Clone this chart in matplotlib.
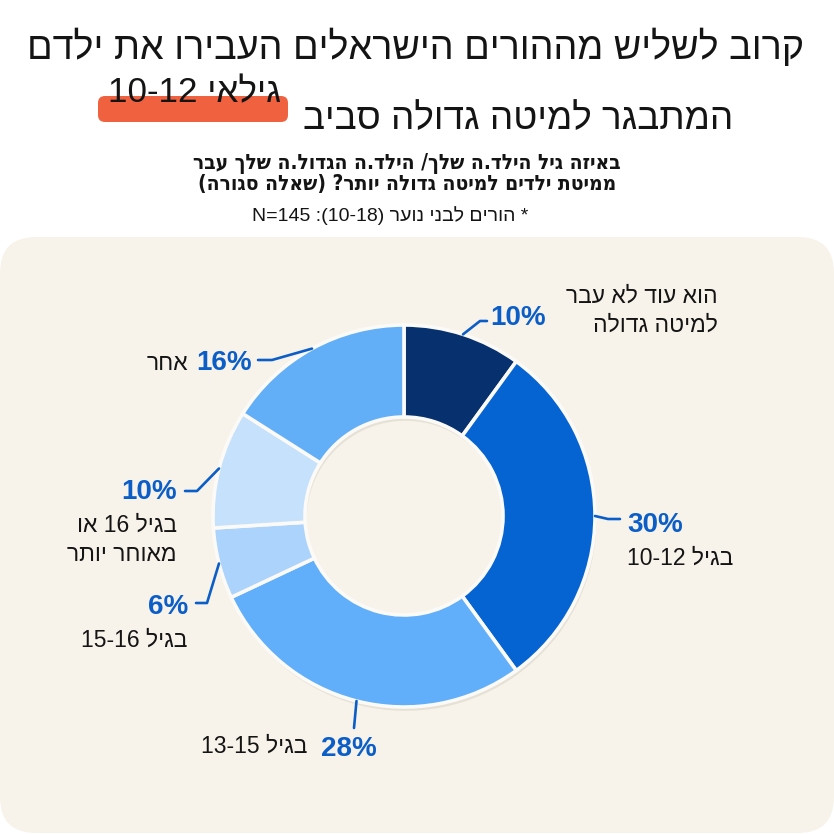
import re
import numpy as np
import matplotlib
matplotlib.use('Agg')
import matplotlib.pyplot as plt
from matplotlib import font_manager as fm
from matplotlib.ft2font import FT2Font
from matplotlib.patches import FancyBboxPatch

# ---------------- data ----------------
categories = ['הוא עוד לא עבר\nלמיטה גדולה', 'בגיל 10-12', 'בגיל 13-15',
              'בגיל 15-16', 'בגיל 16 או\nמאוחר יותר', 'אחר']
values = [10, 30, 28, 6, 10, 16]
pct_labels = [f'{v}%' for v in values]
colors = ['#07306f', '#0563d2', '#61affa', '#abd3fb', '#c6e1fb', '#62aff8']

title_line1 = 'קרוב לשליש מההורים הישראלים העבירו את ילדם'
title_line2 = 'המתבגר למיטה גדולה סביב'
title_highlight = 'גילאי 10-12'
subtitle_lines = ['באיזה גיל הילד.ה שלך/ הילד.ה הגדול.ה שלך עבר',
                  'ממיטת ילדים למיטה גדולה יותר? (שאלה סגורה)']
note = '* הורים לבני נוער (10-18): N=145'

# ---------------- helpers ----------------
W, H = 834, 834
HEB_TEST = 'אבגדהוזחטיכלמנסעפצקרשתםןךףץ'


def _wnum(w):
    if isinstance(w, str):
        return fm.weight_dict.get(w, 400)
    return w


def _covers(path, test):
    try:
        cmap = FT2Font(path).get_charmap()
    except Exception:
        return False
    return all(ord(c) in cmap for c in test)


def _wok(f, bold):
    w = _wnum(f.weight)
    return (w >= 600) if bold else (300 <= w < 550)


def pick_font(names, bold, test=HEB_TEST):
    for name in names:
        for f in fm.fontManager.ttflist:
            if f.name != name or f.style != 'normal' or not _wok(f, bold):
                continue
            if _covers(f.fname, test):
                return f.fname
    return fm.findfont(fm.FontProperties(family='DejaVu Sans',
                                         weight='bold' if bold else 'normal'))


def pick_condensed(bold, test=HEB_TEST):
    for f in fm.fontManager.ttflist:
        low = f.fname.lower()
        if not ('condensed' in low or 'narrow' in low or str(f.stretch) in
                ('condensed', 'semi-condensed', 'extra-condensed')):
            continue
        if f.style != 'normal' or not _wok(f, bold):
            continue
        if _covers(f.fname, test):
            return f.fname
    return None


def vis(s):
    """Logical Hebrew -> visual order (simple bidi)."""
    out = []
    for line in s.split('\n'):
        r = line[::-1]
        r = re.sub(r'[A-Za-z0-9][A-Za-z0-9=\-%.,]*[A-Za-z0-9%]|[A-Za-z0-9]',
                   lambda m: m.group(0)[::-1], r)
        r = r.translate(str.maketrans('()', ')('))
        out.append(r)
    return '\n'.join(out)


REG = pick_font(['Liberation Sans', 'Open Sans', 'DejaVu Sans'], False)
BOLD = pick_font(['Liberation Sans', 'Open Sans', 'DejaVu Sans'], True)
PCTF = pick_font(['Liberation Sans', 'Roboto', 'DejaVu Sans'], True, '0123456789%')
CBOLD = pick_condensed(True) or BOLD


def fp(path, size):
    return fm.FontProperties(fname=path, size=size)


TEXT = '#141414'
BLUE = '#0b5ec8'
BG = '#f8f3ea'

fig = plt.figure(figsize=(W / 100, H / 100), dpi=100)
fig.patch.set_facecolor('white')
renderer = fig.canvas.get_renderer()

# background panel
bg = fig.add_axes([0, 0, 1, 1], zorder=0)
bg.set_xlim(0, W)
bg.set_ylim(H, 0)
bg.axis('off')
bg.add_patch(FancyBboxPatch((0, 237), W, 596, boxstyle='round,pad=0,rounding_size=36',
                            facecolor=BG, edgecolor='none'))

# donut
cx, cy, R = 404, 516, 191
ring = 92 / R
pax = fig.add_axes([(cx - R) / W, (H - cy - R) / H, 2 * R / W, 2 * R / H], zorder=1)
# soft shadow
pax.pie(values, colors=['#6b6050'] * len(values), startangle=90, counterclock=False,
        radius=1.0, center=(0.008, -0.02),
        wedgeprops=dict(width=ring, edgecolor='none', alpha=0.12))
wedges, _ = pax.pie(values, colors=colors, startangle=90, counterclock=False, radius=1.0,
                    wedgeprops=dict(width=ring, edgecolor='#fbfaf6', linewidth=2.6))
pax.set_xlim(-1, 1)
pax.set_ylim(-1, 1)
pax.set_aspect('equal')
pax.axis('off')

# overlay for text & leaders (pixel coords, y down)
ov = fig.add_axes([0, 0, 1, 1], zorder=2)
ov.set_xlim(0, W)
ov.set_ylim(H, 0)
ov.axis('off')


def fit_text(x, y, s, target_w, path, ha='center', color=TEXT, z=5, max_size=None):
    t = ov.text(x, y, vis(s), fontproperties=fp(path, 20), ha=ha, va='baseline',
                color=color, zorder=z)
    bb = t.get_window_extent(renderer)
    size = 20 * target_w / bb.width
    if max_size is not None:
        size = min(size, max_size)
    t.set_fontsize(size)
    return t


# ---- titles ----
fit_text(416, 59, title_line1, 776, REG)
fit_text(733, 129, title_line2, 430, REG, ha='right')
ov.add_patch(FancyBboxPatch((98, 96), 190, 26, boxstyle='round,pad=0,rounding_size=7',
                            facecolor='#f0623f', edgecolor='none', zorder=3))
fit_text(281, 102, title_highlight, 173, REG, ha='right', z=6)

fit_text(407, 169, subtitle_lines[0], 470, CBOLD, max_size=15)
fit_text(407, 190, subtitle_lines[1], 470, CBOLD, max_size=15)
fit_text(390, 221, note, 300, REG, max_size=14)

# ---- labels ----
# per slice: pct (x, baseline, ha), category (x, first baseline, ha), leader (elbow, end)
label_layout = [
    dict(pct=(490, 325, 'left'), cat=(718, 303, 'right'), lead=((480, 321), (487, 321))),
    dict(pct=(627, 532, 'left'), cat=(627, 565, 'left'), lead=((608, 519), (620, 519))),
    dict(pct=(349, 756, 'center'), cat=(307, 753, 'right'), lead=((354, 728), None)),
    dict(pct=(188, 614, 'right'), cat=(187, 647, 'right'), lead=((207, 603), (196, 603))),
    dict(pct=(177, 499, 'right'), cat=(177, 532, 'right'), lead=((197, 491), (185, 491))),
    dict(pct=(252, 370, 'right'), cat=(188, 370, 'right'), lead=((272, 360), (258, 360))),
]
line_gap = 29

for w, pl, cat, lay in zip(wedges, pct_labels, categories, label_layout):
    mid = np.deg2rad((w.theta1 + w.theta2) / 2)
    sx, sy = cx + R * np.cos(mid), cy - R * np.sin(mid)
    (ex, ey), end = lay['lead']
    xs, ys = [sx, ex], [sy, ey]
    if end is not None:
        xs.append(end[0])
        ys.append(end[1])
    ov.plot(xs, ys, color=BLUE, lw=1.9, solid_capstyle='round', solid_joinstyle='round', zorder=4)
    px, py, pha = lay['pct']
    ov.text(px, py, pl, fontproperties=fp(PCTF, 20), color=BLUE, ha=pha, va='baseline', zorder=5)
    tx, ty, tha = lay['cat']
    for k, line in enumerate(cat.split('\n')):
        ov.text(tx, ty + k * line_gap, vis(line), fontproperties=fp(REG, 16.5), color=TEXT,
                ha=tha, va='baseline', zorder=5)

fig.savefig('out.png', dpi=100, facecolor='white')
